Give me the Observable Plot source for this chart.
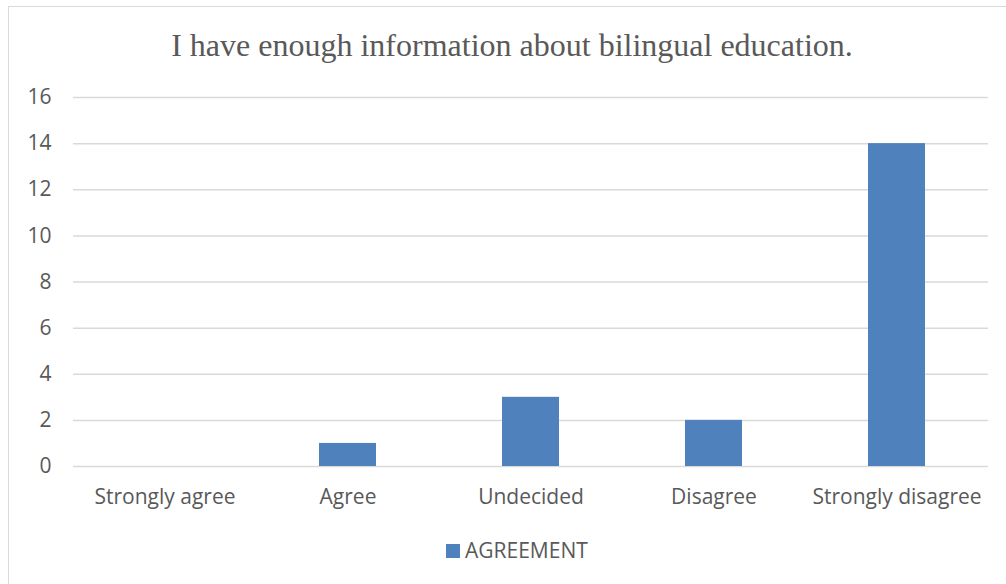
<!DOCTYPE html>
<html>
<head>
<meta charset="utf-8">
<script src="https://cdn.jsdelivr.net/npm/d3@7"></script>
<script src="https://cdn.jsdelivr.net/npm/@observablehq/plot@0.6"></script>
<style>
  html, body { margin: 0; padding: 0; background: #fff; width: 1006px; height: 584px; overflow: hidden; }
  #wrap { position: relative; width: 1006px; height: 584px; }
  #frame { position: absolute; left: 8px; top: 6px; width: 1010px; height: 590px; border: 1px solid #d9d9d9; box-sizing: border-box; }
  #title { position: absolute; left: 0; width: 1024px; top: 29px; text-align: center; font-family: "Liberation Serif", "DejaVu Serif", serif; font-size: 32px; color: #595959; line-height: 1; }
  #chart { position: absolute; left: 0; top: 70px; }
  #legend { position: absolute; top: 538px; left: 446px; font-family: "Open Sans", sans-serif; font-size: 21px; color: #595959; display: flex; align-items: center; line-height: 1.2; }
  #legend .sw { width: 14px; height: 14px; background: #4F81BD; margin-right: 5px; }
</style>
</head>
<body>
<div id="wrap">
  <div id="frame"></div>
  <div id="title">I have enough information about bilingual education.</div>
  <div id="chart"></div>
  <div id="legend"><span class="sw"></span><span>AGREEMENT</span></div>
</div>
<script>
const categories = ["Strongly agree", "Agree", "Undecided", "Disagree", "Strongly disagree"];
const values = [0, 1, 3, 2, 14];
const yTicks = [0, 2, 4, 6, 8, 10, 12, 14, 16];
const seriesName = "AGREEMENT";

const data = categories.map((c, i) => ({category: c, value: values[i], series: seriesName}));

const plot = Plot.plot({
  width: 1006,
  height: 440,
  marginLeft: 73,
  marginRight: 18,
  marginTop: 27,
  marginBottom: 44,
  style: { fontFamily: "Open Sans, sans-serif", fontSize: "21px", color: "#595959", background: "transparent" },
  x: { domain: categories, paddingInner: 0.69, paddingOuter: 0.345, label: null },
  y: { domain: [0, 16], label: null },
  marks: [
    Plot.ruleY(yTicks, { stroke: "#d9d9d9", strokeWidth: 1.5 }),
    Plot.barY(data, { x: "category", y: "value", fill: "#4F81BD" }),
    Plot.axisY({ ticks: yTicks, tickSize: 0, tickPadding: 22, fontSize: 21, label: null }),
    Plot.axisX({ tickSize: 0, tickPadding: 23, fontSize: 21, label: null })
  ]
});
document.getElementById("chart").appendChild(plot);
</script>
</body>
</html>
